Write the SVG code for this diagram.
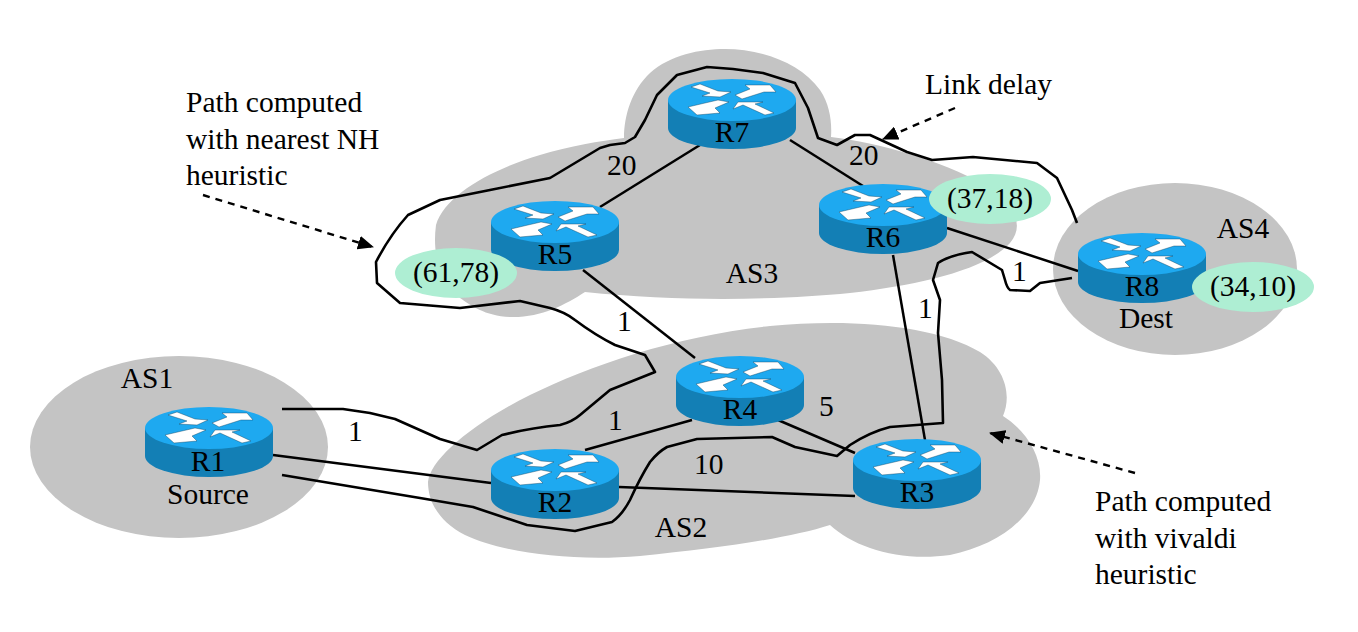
<svg xmlns="http://www.w3.org/2000/svg" width="1358" height="632" viewBox="0 0 1358 632">
<style>
text{font-family:"Liberation Serif","Times New Roman",serif;font-size:29.500px;fill:#000}
.m{text-anchor:middle}
.as{fill:#c4c4c4}
.link{fill:none;stroke:#000;stroke-width:2.500}
.route{fill:none;stroke:#000;stroke-width:2.600;stroke-linejoin:round}
.note{fill:none;stroke:#000;stroke-width:2.400;stroke-dasharray:7 6;marker-end:url(#tip)}
.coord{fill:#aeeed3}
</style>
<defs>
<marker id="tip" viewBox="0 0 16 14" refX="15" refY="7" markerWidth="16" markerHeight="14" markerUnits="userSpaceOnUse" orient="auto"><path d="M0 0L16 7L0 14Z" fill="#000"/></marker>
<g id="router">
<path d="M-64 0V28A64 21 0 0 0 64 28V0Z" fill="#137fb5"/>
<ellipse cx="0" cy="0" rx="64" ry="21" fill="#1ea9f0"/>
<g fill="#fff" stroke="#0b3b55" stroke-width=".4">
<path d="M-41-13L-32-16L-14-9L-1-8L-12-3L-30-4L-22-7Z"/>
<path d="M3-5L18-11L13-15L38-15L44-8L32-8L10-1Z"/>
<path d="M-44 7L-27 3L-14 0L-3 2L-17 8L-12 13L-35 15Z"/>
<path d="M1 9L6 2L31 2L23 4L42 13L33 15L11 5Z"/>
</g>
</g>
</defs>
<rect width="1358" height="632" fill="#fff"/>
<g id="as-regions">
<ellipse class="as" cx="179" cy="447" rx="149" ry="91"/>
<ellipse class="as" cx="1175" cy="269" rx="122" ry="86"/>
<path class="as" d="M624 138C624 115 632 90 650 73C670 55 700 49 725 49C760 49 800 62 820 90C830 105 832 122 831 137C880 143 940 160 985 185C1015 205 1025 225 1010 243C985 270 920 285 850 293C780 300 680 302 585 292C565 305 540 318 510 317C485 316 470 305 460 298C440 280 432 255 436 225C445 195 490 170 540 155C570 146 600 141 624 138Z"/>
<path class="as" d="M428 482C430 460 470 425 530 395C590 365 680 335 770 326C850 318 935 325 980 352C1005 368 1012 395 1003 416C1025 430 1042 455 1040 480C1037 515 1000 545 950 555C900 562 855 548 830 525C790 538 720 548 640 556C570 562 500 552 465 535C440 522 428 503 428 482Z"/>
</g>
<g id="connectors">
<path class="link" d="M273 455L491 483"/>
<path class="link" d="M619 487L855 496"/>
<path class="link" d="M585 450L692 420"/>
<path class="link" d="M778 420L855 453"/>
<path class="link" d="M583 270L695 358"/>
<path class="link" d="M600 207L700 145"/>
<path class="link" d="M790 140L863 186"/>
<path class="link" d="M947 228L1078 271"/>
<path class="link" d="M893 255L925 440"/>
<path class="route" d="M282 409H343L370 413L395 419L440 439L477 450L502 435Q530 428 560 425Q572 422 580 415L610 390L655 372L645 355L615 345Q595 335 575 320Q565 312 550 308L520 301L460 308L400 303L377 283L376 262Q390 235 408 215L440 200L490 190L550 178L600 148L610 145L625 143L635 137L645 120L657 95L677 75L707 67L733 69L763 73L795 83L808 108L818 138L837 145L855 135H870L907 152L932 160L973 157L1037 163L1057 178L1072 210L1077 223"/>
<path class="route" d="M282 475L420 498L473 507L527 525L575 531L612 522Q622 515 630 500Q640 478 650 462Q658 452 667 447L697 439L772 437L795 447L837 456L850 445Q870 432 890 427L943 423L942 380L938 333L940 300L933 280L938 263Q950 255 972 252L1002 270L1005 280Q1007 288 1010 290L1030 291L1040 283L1072 278"/>
<path class="note" d="M955 108L883 139"/>
<path class="note" d="M203 195L373 247"/>
<path class="note" d="M1135 473L990 433"/>
</g>
<g id="R1"><use href="#router" x="209" y="428"/><text class="m" x="208" y="471">R1</text><text class="m" x="208" y="504">Source</text></g>
<g id="R2"><use href="#router" x="555" y="470"/><text class="m" x="555" y="512">R2</text></g>
<g id="R3"><use href="#router" x="917" y="460"/><text class="m" x="917" y="502">R3</text></g>
<g id="R4"><use href="#router" x="740" y="377"/><text class="m" x="740" y="419">R4</text></g>
<g id="R5"><use href="#router" x="555" y="222"/><text class="m" x="555" y="264">R5</text></g>
<g id="R6"><use href="#router" x="883" y="205"/><text class="m" x="883" y="247">R6</text></g>
<g id="R7"><use href="#router" x="732" y="100"/><text class="m" x="732" y="142">R7</text></g>
<g id="R8"><use href="#router" x="1142" y="254"/><text class="m" x="1142" y="296">R8</text><text class="m" x="1146" y="328">Dest</text></g>
<g id="coord-r5"><ellipse class="coord" cx="456" cy="273" rx="61" ry="25"/><text class="m" x="456" y="282">(61,78)</text></g>
<g id="coord-r6"><ellipse class="coord" cx="990" cy="199" rx="61" ry="25"/><text class="m" x="990" y="208">(37,18)</text></g>
<g id="coord-r8"><ellipse class="coord" cx="1253" cy="287" rx="61" ry="25"/><text class="m" x="1253" y="296">(34,10)</text></g>
<g id="labels">
<text class="m" x="147" y="388">AS1</text>
<text class="m" x="681" y="537">AS2</text>
<text class="m" x="752" y="283">AS3</text>
<text class="m" x="1243" y="238">AS4</text>
<text x="348" y="441">1</text>
<text x="608" y="430">1</text>
<text x="617" y="331">1</text>
<text x="918" y="318">1</text>
<text x="1012" y="281">1</text>
<text x="819" y="416">5</text>
<text x="694" y="474">10</text>
<text x="607" y="175">20</text>
<text x="849" y="165">20</text>
<text x="925" y="94">Link delay</text>
<text x="186" y="112">Path computed</text>
<text x="186" y="149">with nearest NH</text>
<text x="186" y="185">heuristic</text>
<text x="1095" y="511">Path computed</text>
<text x="1095" y="548">with vivaldi</text>
<text x="1095" y="584">heuristic</text>
</g>
</svg>
